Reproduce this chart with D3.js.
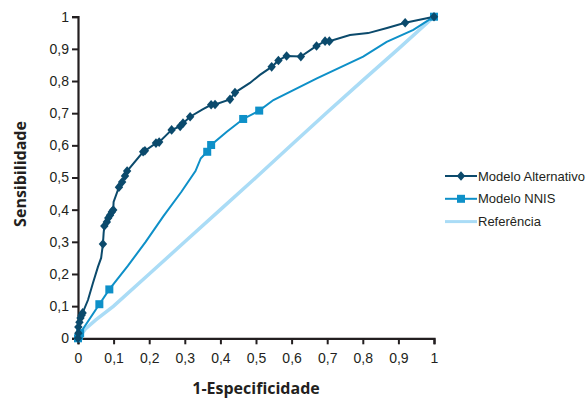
<!DOCTYPE html>
<html><head><meta charset="utf-8">
<script src="https://cdn.jsdelivr.net/npm/d3@7"></script>
<style>body{margin:0;background:#fff}svg{display:block}</style>
</head><body>
<svg id="c" width="588" height="399"></svg>
<script>
const xTicks = [0,0.1,0.2,0.3,0.4,0.5,0.6,0.7,0.8,0.9,1];
const yTicks = [0,0.1,0.2,0.3,0.4,0.5,0.6,0.7,0.8,0.9,1];
const xTitle = "1-Especificidade";
const yTitle = "Sensibilidade";
const seriesNames = ["Modelo Alternativo","Modelo NNIS","Referência"];
const seriesColors = ["#0b4a6c","#0e90c8","#aadcf6"];

// Modelo Alternativo (1-specificity, sensitivity, marker flag)
const altX = [0,0.001,0.001,0.004,0.007,0.010,0.013,0.028,0.042,0.056,0.065,0.070,0.072,0.074,0.081,0.085,0.090,0.095,0.099,0.100,0.115,0.124,0.132,0.138,0.183,0.188,0.219,0.228,0.263,0.287,0.295,0.315,0.350,0.374,0.385,0.427,0.441,0.483,0.511,0.544,0.563,0.586,0.626,0.670,0.694,0.706,0.764,0.815,0.868,0.919,1];
const altY = [0,0.016,0.035,0.050,0.063,0.072,0.079,0.119,0.172,0.222,0.250,0.293,0.327,0.349,0.362,0.374,0.383,0.393,0.399,0.424,0.470,0.486,0.505,0.520,0.580,0.583,0.607,0.610,0.648,0.659,0.669,0.689,0.712,0.726,0.727,0.743,0.764,0.794,0.819,0.844,0.864,0.878,0.876,0.909,0.924,0.924,0.943,0.949,0.965,0.981,1];
const altM = [1,1,1,1,1,1,1,0,0,0,0,1,0,1,1,1,1,1,1,0,1,1,1,1,1,1,1,1,1,1,1,1,0,1,1,1,1,0,0,1,1,1,1,1,1,1,0,0,0,1,1];

// Modelo NNIS
const nnisX = [0,0.003,0.006,0.060,0.088,0.140,0.190,0.240,0.290,0.330,0.345,0.363,0.374,0.418,0.464,0.509,0.549,0.671,0.801,0.867,0.942,1];
const nnisY = [0,0.007,0.016,0.106,0.152,0.225,0.300,0.380,0.455,0.520,0.560,0.580,0.601,0.642,0.682,0.708,0.741,0.808,0.876,0.922,0.959,1];
const nnisM = [1,1,1,1,1,0,0,0,0,0,0,1,1,0,1,1,0,0,0,0,0,1];

// Referência
const refX = [0,0.02,0.05,0.10,0.20,0.30,0.40,0.50,0.60,0.70,0.80,0.90,1];
const refY = [0,0.028,0.057,0.100,0.200,0.300,0.400,0.500,0.602,0.703,0.802,0.900,1];

const svg = d3.select("#c");
const x = d3.scaleLinear().domain([0,1]).range([78,434]);
const y = d3.scaleLinear().domain([0,1]).range([338.3,16.7]);
const fmt = d => String(d).replace(".", ",");
const axisColor = "#231f20";

// axes
const gx = svg.append("g").attr("transform","translate(0,338.3)")
  .call(d3.axisBottom(x).tickValues(xTicks).tickFormat(fmt).tickSize(6).tickPadding(9));
const gy = svg.append("g").attr("transform","translate(78,0)")
  .call(d3.axisLeft(y).tickValues(yTicks).tickFormat(fmt).tickSize(6).tickPadding(3));
[gx,gy].forEach(g=>{
  g.selectAll("path.domain").attr("stroke",axisColor).attr("stroke-width",2.2);
  g.selectAll(".tick line").attr("stroke",axisColor).attr("stroke-width",2);
  g.selectAll(".tick text").attr("fill",axisColor).style("font-family","'Liberation Sans',Arial,sans-serif").style("font-size","14px");
});

const line = d3.line().x(d=>x(d[0])).y(d=>y(d[1]));
const refPts = refX.map((v,i)=>[v,refY[i]]);
const nnisPts = nnisX.map((v,i)=>[v,nnisY[i],nnisM[i]]);
const altPts = altX.map((v,i)=>[v,altY[i],altM[i]]);

svg.append("path").attr("d",line(refPts)).attr("fill","none").attr("stroke",seriesColors[2]).attr("stroke-width",3.5);
svg.append("path").attr("d",line(nnisPts)).attr("fill","none").attr("stroke",seriesColors[1]).attr("stroke-width",2);
svg.append("path").attr("d",line(altPts)).attr("fill","none").attr("stroke",seriesColors[0]).attr("stroke-width",2);

const diamond = "M0,-4.8L4.2,0L0,4.8L-4.2,0Z";
svg.append("g").selectAll("rect").data(nnisPts.filter(d=>d[2])).join("rect")
  .attr("x",d=>x(d[0])-4).attr("y",d=>y(d[1])-4).attr("width",8).attr("height",8)
  .attr("fill",seriesColors[1]);
svg.append("g").selectAll("path").data(altPts.filter(d=>d[2])).join("path")
  .attr("d",diamond).attr("transform",d=>`translate(${x(d[0])},${y(d[1])})`)
  .attr("fill",seriesColors[0]);

// axis titles
svg.append("text").attr("x",256).attr("y",394).attr("text-anchor","middle")
  .style("font-family","'Open Sans',sans-serif").style("font-weight","bold").style("font-size","16px")
  .attr("fill",axisColor).text(xTitle);
svg.append("text").attr("transform","translate(26,174) rotate(-90)").attr("text-anchor","middle")
  .style("font-family","'Open Sans',sans-serif").style("font-weight","bold").style("font-size","16px")
  .attr("fill",axisColor).text(yTitle);

// legend
const lg = svg.append("g");
seriesNames.forEach((n,i)=>{
  const yy = 176 + i*22.8;
  lg.append("line").attr("x1",445).attr("x2",477).attr("y1",yy).attr("y2",yy)
    .attr("stroke",seriesColors[i]).attr("stroke-width",i===2?3:2);
  if(i===0) lg.append("path").attr("d",diamond).attr("transform",`translate(461,${yy})`).attr("fill",seriesColors[0]);
  if(i===1) lg.append("rect").attr("x",457).attr("y",yy-4).attr("width",8).attr("height",8).attr("fill",seriesColors[1]);
  lg.append("text").attr("x",478).attr("y",yy+4.5)
    .style("font-family","'Liberation Sans',Arial,sans-serif").style("font-size","13px")
    .attr("fill",axisColor).text(n);
});
</script>
</body></html>
